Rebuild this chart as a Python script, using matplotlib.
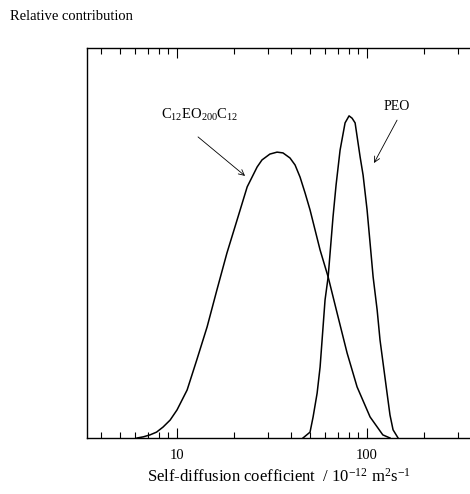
import numpy as np
import matplotlib.pyplot as plt
from matplotlib.ticker import LogLocator, NullFormatter

plt.rcParams['font.family'] = ['Liberation Serif', 'DejaVu Serif']
plt.rcParams['mathtext.fontset'] = 'custom'
plt.rcParams['mathtext.rm'] = 'Liberation Serif'
plt.rcParams['mathtext.it'] = 'Liberation Serif'

# C12EO200C12 distribution (D in 1e-12 m2/s, relative contribution)
d_c12 = [6.16, 6.65, 7.21, 7.8, 8.44, 9.2, 10.0, 11.3, 12.7, 14.4, 16.2, 18.3, 20.7, 23.4,
         26.4, 28.0, 30.8, 33.6, 36.1, 39.3, 41.8, 44.4, 47.2, 50.1, 56.6, 62.4, 69.5,
         78.5, 88.6, 103.7, 121, 132]
p_c12 = [0.0, 0.003, 0.008, 0.015, 0.028, 0.046, 0.072, 0.123, 0.2, 0.285, 0.379, 0.474,
         0.559, 0.644, 0.695, 0.713, 0.728, 0.733, 0.731, 0.718, 0.700, 0.669, 0.628, 0.585,
         0.482, 0.413, 0.321, 0.218, 0.131, 0.054, 0.008, 0.0]

# PEO distribution
d_peo = [46.0, 50.1, 52.0, 54.6, 56.6, 60.1, 62.4, 66.2, 68.7, 72.1, 76.6, 80.4, 83.4,
         86.5, 91.9, 95.3, 100, 103.7, 107.6, 113, 117, 127.4, 132, 137, 145.6]
p_peo = [0.0, 0.015, 0.054, 0.115, 0.182, 0.354, 0.413, 0.567, 0.649, 0.738, 0.808, 0.826,
         0.82, 0.808, 0.721, 0.674, 0.585, 0.5, 0.413, 0.328, 0.251, 0.115, 0.059, 0.021, 0.0]

fig = plt.figure(figsize=(4.7, 4.94), dpi=100)
ax = fig.add_axes([87 / 470, 56 / 494, 383 / 470, 390 / 494])

ax.plot(d_c12, p_c12, color='black', lw=1.1)
ax.plot(d_peo, p_peo, color='black', lw=1.1)

ax.set_xscale('log')
ax.set_xlim(3.36, 348)
ax.set_ylim(0, 1)

ax.spines['right'].set_visible(False)
for s in ['left', 'top', 'bottom']:
    ax.spines[s].set_linewidth(1.0)

ax.set_yticks([])
ax.xaxis.set_minor_locator(LogLocator(base=10, subs=np.arange(2, 10), numticks=10))
ax.xaxis.set_minor_formatter(NullFormatter())
ax.set_xticks([10, 100])
ax.set_xticklabels(['10', '100'])
ax.tick_params(axis='x', which='major', direction='in', length=7, width=0.8,
               top=True, labelsize=10.5, pad=8)
ax.tick_params(axis='x', which='minor', direction='in', length=4, width=0.8, top=True)

ax.set_xlabel(r'Self-diffusion coefficient  / 10$^{-12}$ m$^{2}$s$^{-1}$', fontsize=12, labelpad=4)
fig.text(10 / 470, 1 - 17 / 494, 'Relative contribution', fontsize=10.5, va='center', ha='left')

arrow = dict(arrowstyle='->', color='black', lw=0.6, shrinkA=0, shrinkB=0)
ax.text(13.2, 0.828, r'C$_{12}$EO$_{200}$C$_{12}$', fontsize=10.5, ha='center', va='center')
ax.annotate('', xy=(22.8, 0.672), xytext=(12.9, 0.772), arrowprops=arrow)
ax.text(143.8, 0.849, 'PEO', fontsize=10, ha='center', va='center')
ax.annotate('', xy=(108.8, 0.705), xytext=(143.8, 0.815), arrowprops=arrow)

fig.savefig('out.png', dpi=100)
